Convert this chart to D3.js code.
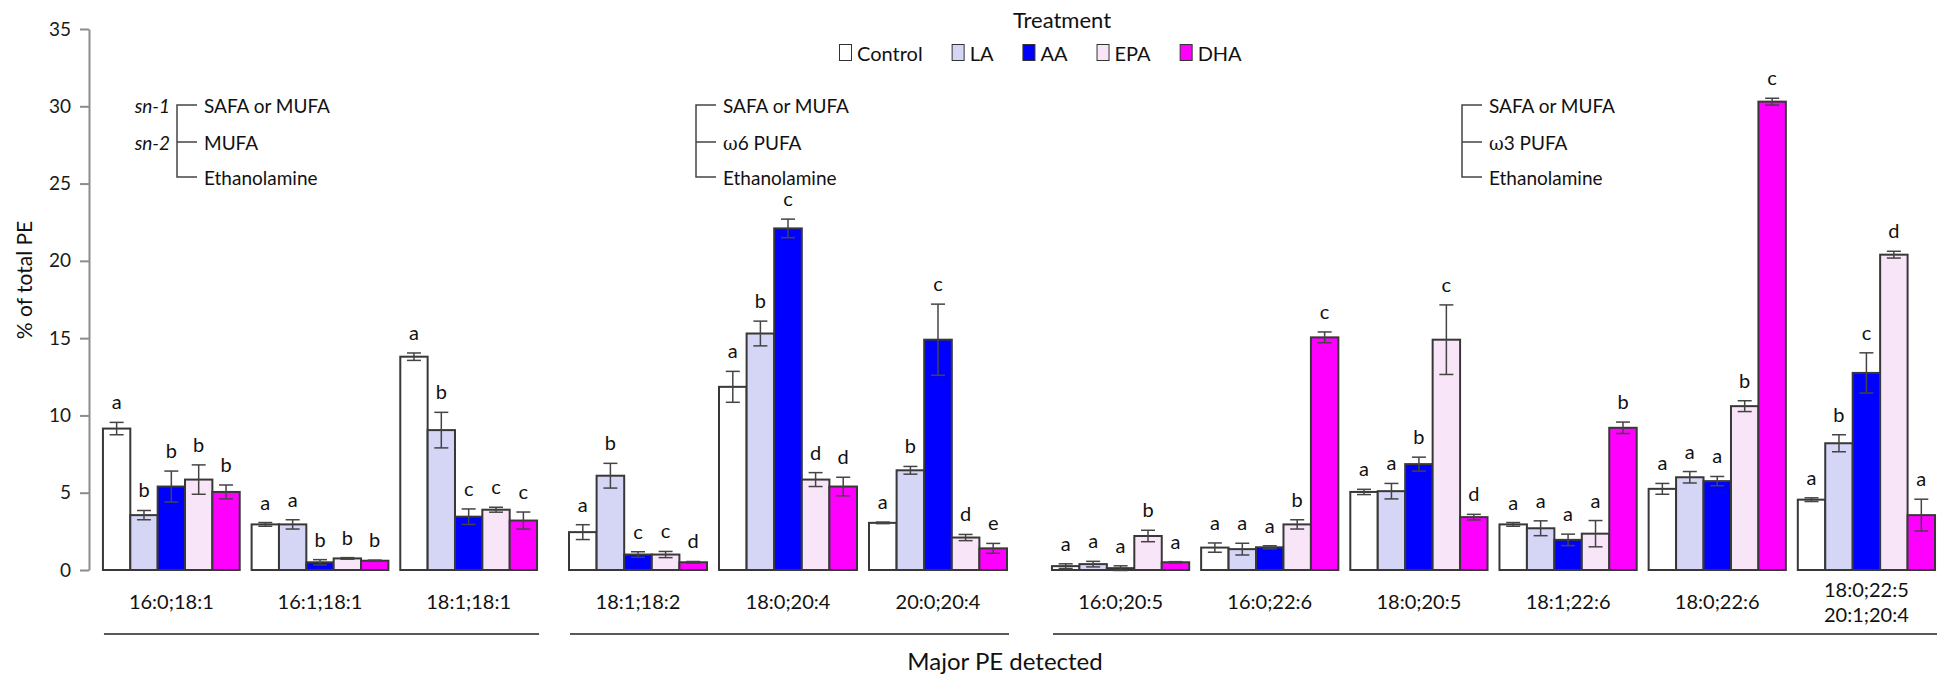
<!DOCTYPE html>
<meta charset="utf-8">
<script src="https://d3js.org/d3.v7.min.js"></script>
<title>Major PE detected</title>
<style>
body { margin: 0; background: #fff; }
svg { font-family: Lato, "Open Sans", sans-serif; }
.axis path, .axis line { stroke: #8c8c8c; stroke-width: 2px; }
.axis text { font-size: 19px; fill: #1a1a1a; font-family: Lato, sans-serif; }
.lbl { font-size: 19px; fill: #111; }
.sig { font-size: 20px; fill: #111; }
.xlbl { font-size: 20px; fill: #111; }
.bar { stroke: #383838; stroke-width: 2px; }
.err { stroke: #444; stroke-width: 1.5px; fill: none; }
.legend text { fill: #111; }
</style>
<body>
<svg id="chart" width="1950" height="680"></svg>
<script>

var treatments = ["Control", "LA", "AA", "EPA", "DHA"];
var fills = ["#ffffff", "#d5d5f6", "#0000ff", "#f8e5f8", "#ff00ff"];
var species = ["16:0;18:1", "16:1;18:1", "18:1;18:1", "18:1;18:2", "18:0;20:4", "20:0;20:4",
  "16:0;20:5", "16:0;22:6", "18:0;20:5", "18:1;22:6", "18:0;22:6", "18:0;22:5|20:1;20:4"];
var panelOf = [0, 0, 0, 1, 1, 1, 2, 2, 2, 2, 2, 2];

// mean % of total PE
var control = [9.15, 2.95, 13.8, 2.45, 11.85, 3.05, 0.25, 1.45, 5.05, 2.95, 5.25, 4.55];
var la      = [3.55, 2.95, 9.05, 6.1, 15.3, 6.45, 0.38, 1.35, 5.1, 2.7, 6.0, 8.2];
var aa      = [5.4, 0.5, 3.45, 1.0, 22.1, 14.9, 0.12, 1.47, 6.85, 1.95, 5.75, 12.75];
var epa     = [5.85, 0.75, 3.9, 1.0, 5.85, 2.1, 2.2, 2.95, 14.9, 2.35, 10.6, 20.4];
var dha     = [5.05, 0.6, 3.2, 0.5, 5.4, 1.4, 0.5, 15.05, 3.42, 9.2, 30.3, 3.55];

// error (+/-)
var controlSE = [0.4, 0.12, 0.24, 0.48, 1.0, 0.05, 0.15, 0.3, 0.17, 0.12, 0.35, 0.12];
var laSE      = [0.3, 0.3, 1.15, 0.8, 0.8, 0.25, 0.18, 0.38, 0.5, 0.48, 0.37, 0.55];
var aaSE      = [1.0, 0.17, 0.5, 0.18, 0.6, 2.3, 0.15, 0.1, 0.45, 0.37, 0.3, 1.3];
var epaSE     = [0.95, 0.05, 0.16, 0.2, 0.45, 0.2, 0.37, 0.3, 2.25, 0.85, 0.35, 0.22];
var dhaSE     = [0.45, 0.04, 0.55, 0.05, 0.6, 0.32, 0.04, 0.35, 0.18, 0.37, 0.22, 1.03];

// significance letters
var controlSig = ["a", "a", "a", "a", "a", "a", "a", "a", "a", "a", "a", "a"];
var laSig      = ["b", "a", "b", "b", "b", "b", "a", "a", "a", "a", "a", "b"];
var aaSig      = ["b", "b", "c", "c", "c", "c", "a", "a", "b", "a", "a", "c"];
var epaSig     = ["b", "b", "c", "c", "d", "d", "b", "b", "c", "a", "b", "d"];
var dhaSig     = ["b", "b", "c", "d", "d", "e", "a", "c", "d", "b", "c", "a"];

var yTicks = [0, 5, 10, 15, 20, 25, 30, 35];
var panelNotes = [["SAFA or MUFA", "MUFA", "Ethanolamine"],
                  ["SAFA or MUFA", "ω6 PUFA", "Ethanolamine"],
                  ["SAFA or MUFA", "ω3 PUFA", "Ethanolamine"]];

var means = [control, la, aa, epa, dha],
    errs = [controlSE, laSE, aaSE, epaSE, dhaSE],
    sigs = [controlSig, laSig, aaSig, epaSig, dhaSig];

var svg = d3.select("#chart");

var y = d3.scaleLinear().domain([0, 35]).range([570, 29]);

// three panels, each with its own band scale
var panelRanges = [[97, 543], [563, 1013], [1046, 1941]];
var xs = panelRanges.map(function(r, p) {
  return d3.scaleBand()
    .domain(species.filter(function(s, i) { return panelOf[i] === p; }))
    .range(r)
    .paddingInner(0.08)
    .paddingOuter(0.04);
});

var data = [];
species.forEach(function(s, i) {
  var x = xs[panelOf[i]];
  var inner = d3.scaleBand().domain(treatments).range([x(s), x(s) + x.bandwidth()]);
  treatments.forEach(function(t, j) {
    data.push({ sp: s, t: t, j: j, v: means[j][i], e: errs[j][i], sig: sigs[j][i],
                x0: inner(t), w: inner.bandwidth() });
  });
});

// y axis
svg.append("g")
    .attr("class", "axis")
    .attr("transform", "translate(89,0)")
    .call(d3.axisLeft(y).tickValues(yTicks).tickSize(9).tickSizeOuter(0).tickPadding(9));

svg.append("text")
    .attr("transform", "translate(32,280) rotate(-90)")
    .attr("text-anchor", "middle")
    .style("font-size", "21px")
    .attr("fill", "#111")
    .text("% of total PE");

// bars
svg.append("g").selectAll("rect")
    .data(data)
  .enter().append("rect")
    .attr("class", "bar")
    .attr("x", function(d) { return d.x0; })
    .attr("width", function(d) { return d.w; })
    .attr("y", function(d) { return y(d.v); })
    .attr("height", function(d) { return y(0) - y(d.v); })
    .attr("fill", function(d) { return fills[d.j]; });

// error bars
var eb = svg.append("g").selectAll("g")
    .data(data)
  .enter().append("g")
    .attr("class", "err");
eb.append("line")
    .attr("x1", function(d) { return d.x0 + d.w / 2; })
    .attr("x2", function(d) { return d.x0 + d.w / 2; })
    .attr("y1", function(d) { return y(d.v + d.e); })
    .attr("y2", function(d) { return y(d.v - d.e); });
[1, -1].forEach(function(s) {
  eb.append("line")
      .attr("x1", function(d) { return d.x0 + d.w / 2 - 7; })
      .attr("x2", function(d) { return d.x0 + d.w / 2 + 7; })
      .attr("y1", function(d) { return y(d.v + s * d.e); })
      .attr("y2", function(d) { return y(d.v + s * d.e); });
});

// letters
svg.append("g").selectAll("text")
    .data(data)
  .enter().append("text")
    .attr("class", "sig")
    .attr("text-anchor", "middle")
    .attr("x", function(d) { return d.x0 + d.w / 2; })
    .attr("y", function(d) { return y(d.v + d.e) - 13; })
    .text(function(d) { return d.sig; });

// category labels
species.forEach(function(s, i) {
  var x = xs[panelOf[i]];
  var lines = s.split("|");
  var t = svg.append("text")
      .attr("class", "xlbl")
      .attr("text-anchor", "middle")
      .attr("x", x(s) + x.bandwidth() / 2)
      .attr("y", lines.length > 1 ? 597 : 609);
  lines.forEach(function(l, k) {
    t.append("tspan")
        .attr("x", x(s) + x.bandwidth() / 2)
        .attr("dy", k ? 25 : 0)
        .text(l);
  });
});

// panel underlines
xs.forEach(function(x) {
  var dom = x.domain();
  svg.append("line")
      .attr("x1", x(dom[0]) + 1)
      .attr("x2", x(dom[dom.length - 1]) + x.bandwidth() + 2)
      .attr("y1", 634).attr("y2", 634)
      .attr("stroke", "#222")
      .attr("stroke-width", 1.5);
});

svg.append("text")
    .attr("x", 1005)
    .attr("y", 670)
    .attr("text-anchor", "middle")
    .style("font-size", "24px")
    .attr("fill", "#111")
    .text("Major PE detected");

// sn-1 / sn-2 bracket notes
var bracketX = [177, 696, 1462],
    rowY = [105, 142, 177];
panelNotes.forEach(function(rows, p) {
  var g = svg.append("g").attr("transform", "translate(" + bracketX[p] + ",0)");
  g.append("path")
      .attr("d", "M20," + rowY[0] + "H0V" + rowY[2] + "H20M0," + rowY[1] + "H20")
      .attr("fill", "none")
      .attr("stroke", "#444")
      .attr("stroke-width", 1.5);
  rows.forEach(function(r, k) {
    var t = g.append("text")
        .attr("class", "lbl")
        .attr("x", 27)
        .attr("y", rowY[k] + 8);
    if (r.charAt(0) === "ω") {
      t.append("tspan").style("font-family", "'DejaVu Serif', serif").style("font-size", "18px").text("ω");
      t.append("tspan").text(r.slice(1));
    } else {
      t.text(r);
    }
  });
  if (p === 0) {
    ["sn-1", "sn-2"].forEach(function(s, k) {
      g.append("text")
          .attr("class", "lbl")
          .attr("x", -7)
          .attr("y", rowY[k] + 8)
          .attr("text-anchor", "end")
          .style("font-style", "italic")
          .text(s);
    });
  }
});

// legend
var legend = svg.append("g").attr("class", "legend");
legend.append("text")
    .attr("x", 1062)
    .attr("y", 28)
    .attr("text-anchor", "middle")
    .style("font-size", "22px")
    .text("Treatment");
var lx = 839;
treatments.forEach(function(t, j) {
  var g = legend.append("g").attr("transform", "translate(" + lx + ",0)");
  g.append("rect")
      .attr("x", 0.5).attr("y", 44.5)
      .attr("width", 12).attr("height", 16)
      .attr("fill", fills[j])
      .attr("stroke", "#333")
      .attr("stroke-width", 1);
  var tx = g.append("text")
      .attr("x", 18)
      .attr("y", 61)
      .style("font-size", "20px")
      .text(t);
  lx += 18 + tx.node().getComputedTextLength() + 29;
});

</script>
</body>
